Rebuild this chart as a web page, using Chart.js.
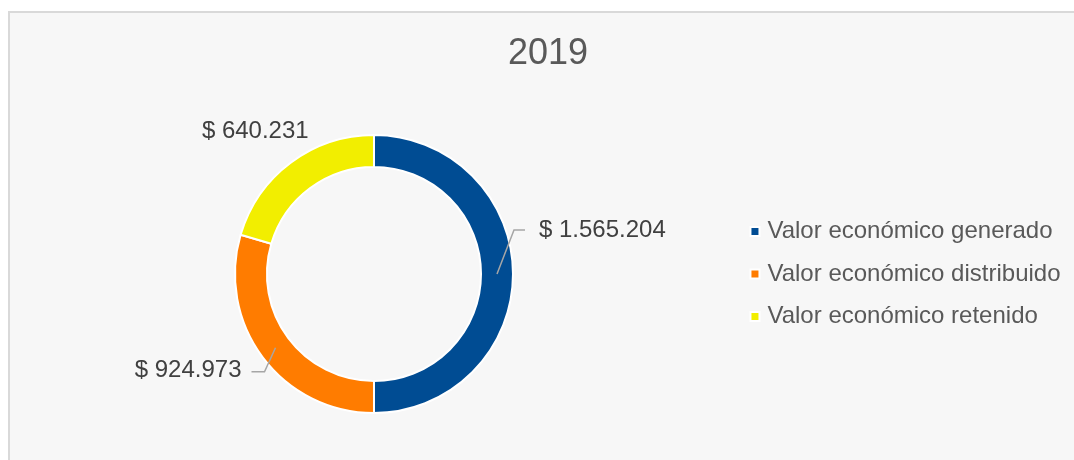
<!DOCTYPE html>
<html lang="es">

<head>
    <meta charset="UTF-8">
    <script src="https://cdn.jsdelivr.net/npm/chart.js"></script>
    <title>Valor económico 2019</title>
    <style>
        html, body { margin: 0; padding: 0; background: #ffffff; overflow: hidden; }
        /* marco gris claro del grafico */
        #frame { position: absolute; left: 8px; top: 11px; width: 1100px; height: 480px;
                 border: 2px solid #d9d9d9; background: #f7f7f7; }
        #wrap { position: absolute; left: 0; top: 0; width: 1074px; height: 460px; }
    </style>
</head>

<body>
    <div id="frame"></div>
    <div id="wrap">
        <canvas id="valorChart"></canvas>
    </div>

    <script>
        // datos del grafico
        const chartTitle = '2019';
        const categories = ['Valor económico generado', 'Valor económico distribuido', 'Valor económico retenido'];
        const values = [1565204, 924973, 640231];
        const colors = ['#004c93', '#ff7c00', '#f2ee00'];

        // donde va cada etiqueta respecto al centro del arco (dx/dy del texto, quiebre de la linea guia)
        const labelPlacement = [
            { dx: 42, dy: -44, align: 'left', line: [[17, -44], [28, -44]] },
            { dx: -34, dy: 23, align: 'right', line: [[-11, 24], [-24, 24]] },
            { dx: -45, dy: -44, align: 'center', line: null }
        ];

        const FONT = '"Liberation Sans", Arial, sans-serif';

        function formatPesos(v) {
            return '$ ' + String(v).replace(/\B(?=(\d{3})+(?!\d))/g, '.');
        }

        // titulo centrado sobre todo el marco
        const titlePlugin = {
            id: 'frameTitle',
            afterDraw(chart, args, opts) {
                const ctx = chart.ctx;
                ctx.save();
                ctx.font = '36px ' + FONT;
                ctx.fillStyle = '#595959';
                ctx.textAlign = 'center';
                ctx.textBaseline = 'middle';
                ctx.fillText(opts.text, opts.x, opts.y);
                ctx.restore();
            }
        };

        // etiquetas de valor con linea guia
        const valueLabels = {
            id: 'valueLabels',
            afterDatasetsDraw(chart) {
                const ctx = chart.ctx;
                const meta = chart.getDatasetMeta(0);
                ctx.save();
                ctx.font = '24px ' + FONT;
                ctx.textBaseline = 'middle';
                meta.data.forEach((arc, i) => {
                    const p = arc.getProps(['x', 'y', 'startAngle', 'endAngle', 'innerRadius', 'outerRadius'], true);
                    const a = (p.startAngle + p.endAngle) / 2;
                    const r = (p.innerRadius + p.outerRadius) / 2;
                    const ax = p.x + Math.cos(a) * r;
                    const ay = p.y + Math.sin(a) * r;
                    const pl = labelPlacement[i];
                    if (pl.line) {
                        ctx.strokeStyle = '#a6a6a6';
                        ctx.lineWidth = 1.5;
                        ctx.beginPath();
                        ctx.moveTo(ax, ay);
                        pl.line.forEach(pt => ctx.lineTo(ax + pt[0], ay + pt[1]));
                        ctx.stroke();
                    }
                    ctx.fillStyle = '#404040';
                    ctx.textAlign = pl.align;
                    ctx.fillText(formatPesos(values[i]), ax + pl.dx, ay + pl.dy);
                });
                ctx.restore();
            }
        };

        const ctx = document.getElementById('valorChart').getContext('2d');
        new Chart(ctx, {
            type: 'doughnut',
            data: {
                labels: categories,
                datasets: [{
                    data: values,
                    backgroundColor: colors,
                    borderColor: '#ffffff',
                    borderWidth: 2,
                    hoverOffset: 0
                }]
            },
            options: {
                responsive: true,
                maintainAspectRatio: false,
                animation: false,
                events: [],
                radius: 139,
                cutout: '77%',
                layout: {
                    padding: { left: 12, right: 3.5, top: 134, bottom: 46 }
                },
                plugins: {
                    title: { display: false },
                    tooltip: { enabled: false },
                    frameTitle: { text: chartTitle, x: 548, y: 54 },
                    legend: {
                        position: 'right',
                        labels: {
                            usePointStyle: true,
                            pointStyle: 'rect',
                            boxWidth: 1,
                            boxHeight: 9,
                            padding: 18.5,
                            color: '#595959',
                            font: { family: FONT, size: 24 }
                        }
                    }
                }
            },
            plugins: [titlePlugin, valueLabels]
        });
    </script>
</body>

</html>
